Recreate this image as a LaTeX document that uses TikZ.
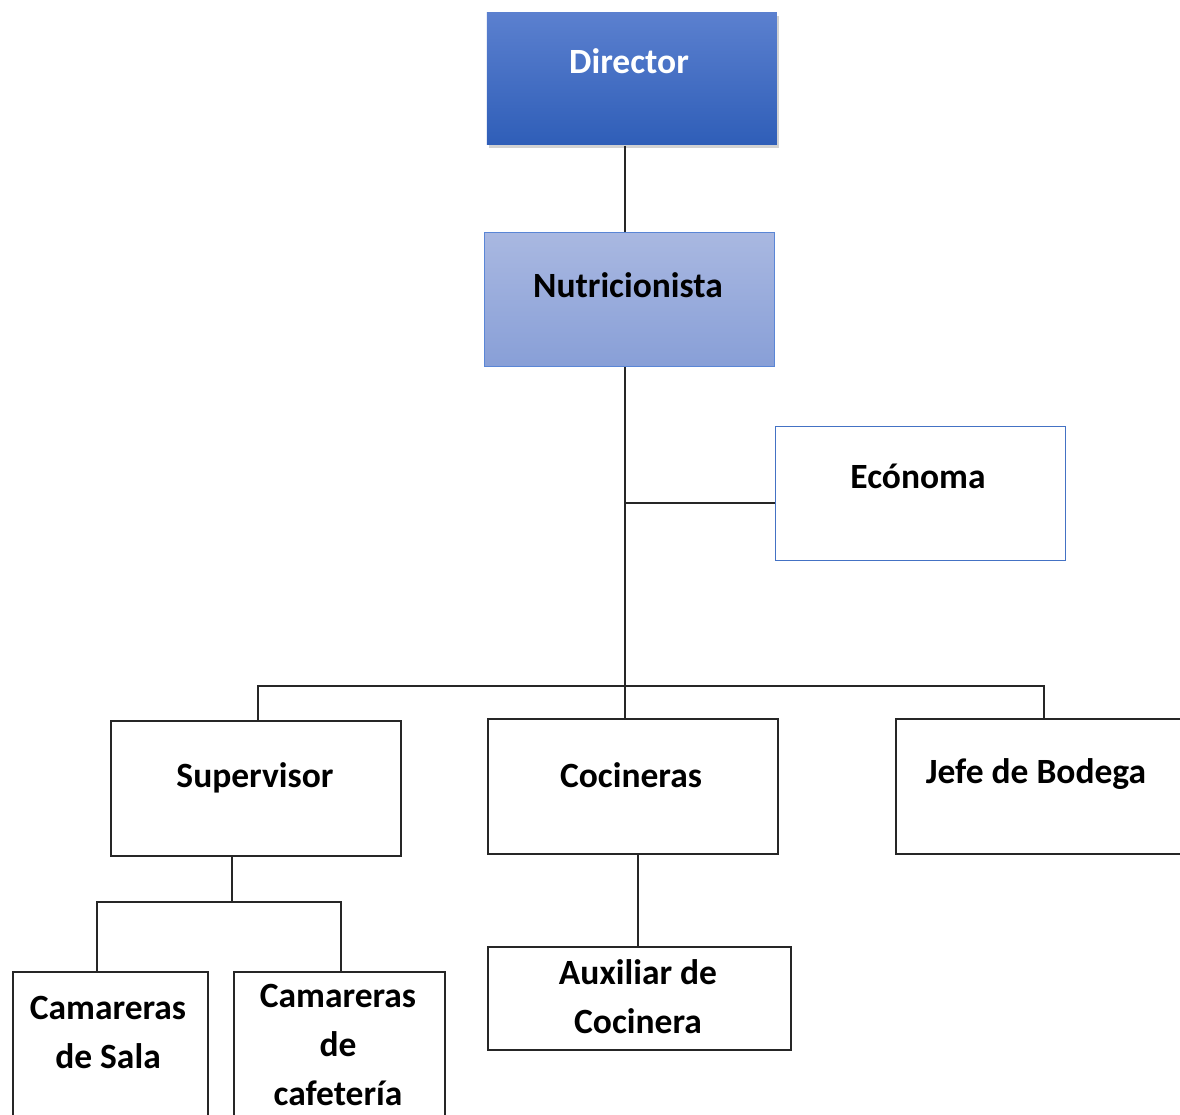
\documentclass[tikz,border=0pt]{standalone}
\usepackage{fontspec}
\setmainfont{Carlito}
\usetikzlibrary{shadows}
\definecolor{dirtop}{HTML}{5B80CF}
\definecolor{dirbot}{HTML}{2F5EB8}
\definecolor{nutop}{HTML}{A9B8E1}
\definecolor{nubot}{HTML}{889FD7}
\definecolor{nuedge}{HTML}{5A86D6}
\definecolor{econedge}{HTML}{4472C4}
\begin{document}
\begin{tikzpicture}[x=1pt,y=-1pt,
  box/.style={draw=black!85, line width=1.6pt, fill=white, rectangle,
    anchor=north west, inner sep=0pt, minimum width=290, minimum height=134},
  lbl/.style={font=\bfseries\fontsize{35.5}{49}\selectfont, align=center,
    anchor=base, inner sep=0pt},
  conn/.style={draw=black!85, line width=1.6pt}]
\useasboundingbox (0,0) rectangle (1180,1114);
\clip (0,0) rectangle (1180,1114);
\fill[white] (0,0) rectangle (1180,1114);

% boxes
\node[box, draw=none, top color=dirtop, bottom color=dirbot, minimum height=132,
  drop shadow={shadow xshift=2pt, shadow yshift=-3pt, opacity=0.35}] (dir) at (486,12) {};
\node[box, draw=nuedge, top color=nutop, bottom color=nubot, line width=1.4pt] (nutri) at (484,232) {};
\node[box, draw=econedge, line width=1.4pt] (econ) at (775,426) {};
\node[box, minimum height=135] (sup) at (110,720) {};
\node[box, minimum height=135] (cocin) at (487,718) {};
\node[box, minimum height=135] (jefe) at (895,718) {};
\node[box, minimum width=195, minimum height=170] (cs) at (12,971) {};
\node[box, minimum width=211, minimum height=170] (cf) at (233,971) {};
\node[box, minimum width=303, minimum height=103] (aux) at (487,946) {};

% labels (multi-line labels sit on the baseline of their last line)
\node[lbl, text=white] (dirt) at (629,73) {Director};
\node[lbl] (nutrit) at (628,297) {Nutricionista};
\node[lbl] (econt) at (918,488) {Ecónoma};
\node[lbl] (supt) at (255,787) {Supervisor};
\node[lbl] (cocint) at (631,787) {Cocineras};
\node[lbl] (jefet) at (1036,783) {Jefe de Bodega};
\node[lbl] (cst) at (108,1068) {Camareras\\de Sala};
\node[lbl] (cft) at (338,1105) {Camareras\\de\\cafetería};
\node[lbl] (auxt) at (638,1033) {Auxiliar de\\Cocinera};

% connector guides
\coordinate (tx) at (625,0);
\coordinate (bj) at (625,503);
\coordinate (bus) at (0,686);
\coordinate (sx) at (232,0);
\coordinate (sbus) at (0,902);
\coordinate (c1x) at (97,0);
\coordinate (c2x) at (341,0);
\coordinate (ax) at (638,0);
\coordinate (jx) at (1044,0);
\coordinate (px) at (258,0);

% connectors
\draw[conn] (dir.south -| tx) -- (nutri.north -| tx);
\draw[conn] (nutri.south -| tx) -- (cocin.north -| tx);
\draw[conn] (bj) -- (bj -| econ.west);
\draw[conn] (sup.north -| px) -- (bus -| px) -- (bus -| jx) -- (jefe.north -| jx);
\draw[conn] (sup.south -| sx) -- (sbus -| sx);
\draw[conn] (cs.north -| c1x) -- (sbus -| c1x) -- (sbus -| c2x) -- (cf.north -| c2x);
\draw[conn] (cocin.south -| ax) -- (aux.north -| ax);
\end{tikzpicture}
\end{document}
